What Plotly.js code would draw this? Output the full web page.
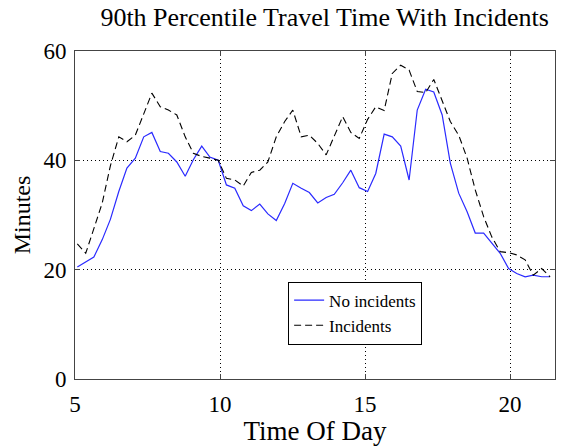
<!DOCTYPE html>
<html>
<head>
<meta charset="utf-8">
<script src="https://cdn.plot.ly/plotly-3.0.1.min.js"></script>
<style>
  html, body { margin: 0; padding: 0; background: #fff; }
  #chart { width: 567px; height: 446px; }
  #chart .legendtext { font-family: "Liberation Serif", "Times New Roman", serif !important; }
</style>
</head>
<body>
<div id="chart"></div>
<script>
// Time of day (hours)
var timeOfDay = [5.08, 5.37, 5.65, 5.94, 6.22, 6.51, 6.79, 7.08, 7.37, 7.65,
  7.94, 8.22, 8.51, 8.80, 9.08, 9.37, 9.65, 9.94, 10.22, 10.51,
  10.80, 11.08, 11.37, 11.65, 11.94, 12.23, 12.51, 12.80, 13.08, 13.37,
  13.66, 13.94, 14.23, 14.51, 14.80, 15.09, 15.37, 15.66, 15.94, 16.23,
  16.52, 16.80, 17.09, 17.37, 17.66, 17.94, 18.23, 18.52, 18.80, 19.09,
  19.37, 19.66, 19.95, 20.23, 20.52, 20.80, 21.09, 21.38];

// 90th percentile travel time (minutes), no incidents
var noIncidents = [20.5, 21.5, 22.3, 25.5, 29.2, 34.3, 38.6, 40.4, 44.3, 45.1,
  41.6, 41.3, 39.7, 37.1, 40.1, 42.6, 40.6, 40.0, 35.5, 34.9,
  31.7, 30.8, 32.0, 30.2, 29.0, 32.1, 35.8, 34.9, 34.1, 32.2,
  33.2, 33.8, 35.9, 38.2, 35.0, 34.3, 37.6, 44.8, 44.3, 42.6,
  36.4, 49.2, 53.0, 52.5, 48.3, 39.5, 34.0, 30.6, 26.7, 26.7,
  24.8, 23.0, 20.2, 19.3, 18.7, 19.0, 18.7, 18.7];

// 90th percentile travel time (minutes), with incidents
var incidents = [24.7, 23.0, 27.5, 32.2, 39.0, 44.3, 43.4, 44.6, 48.5, 52.3,
  49.8, 49.2, 48.3, 44.3, 41.3, 40.7, 40.4, 40.0, 36.7, 36.4,
  35.3, 37.8, 38.2, 39.7, 44.3, 47.1, 49.2, 44.3, 44.6, 43.1,
  41.0, 44.3, 48.0, 45.1, 44.0, 47.5, 49.8, 49.1, 55.9, 57.4,
  56.5, 52.6, 52.4, 54.8, 50.7, 47.1, 44.6, 40.4, 34.6, 29.7,
  26.0, 23.3, 23.1, 22.7, 21.8, 19.0, 20.2, 18.7];

var seriesNames = ['No incidents', 'Incidents'];
var xTicks = [5, 10, 15, 20];
var yTicks = [0, 20, 40, 60];
var titleText = '90th Percentile Travel Time With Incidents';
var xTitle = 'Time Of Day';
var yTitle = 'Minutes';

var serif = 'Liberation Serif, Times New Roman, Times, serif';
var axisGray = '#444444';

var traces = [
  {
    x: timeOfDay, y: noIncidents, name: seriesNames[0],
    type: 'scatter', mode: 'lines',
    line: { color: '#2a2aff', width: 1.2 }
  },
  {
    x: timeOfDay, y: incidents, name: seriesNames[1],
    type: 'scatter', mode: 'lines',
    line: { color: '#000000', width: 1.1, dash: '7px,4px' }
  }
];

var axisCommon = {
  showline: true, linecolor: axisGray, linewidth: 1, mirror: 'ticks',
  ticks: 'inside', ticklen: 5, tickwidth: 1, tickcolor: axisGray,
  showgrid: true, gridcolor: '#000000', gridwidth: 1, griddash: '1px,3px',
  zeroline: false, tickmode: 'array',
  tickfont: { family: serif, size: 23, color: '#000' }
};

var layout = {
  width: 567, height: 446,
  paper_bgcolor: '#ffffff', plot_bgcolor: '#ffffff',
  margin: { l: 75, r: 12, t: 51, b: 67, pad: 0 },
  font: { family: serif, color: '#000' },
  title: {
    text: titleText,
    font: { family: serif, size: 26, color: '#000' },
    x: 0.52, xref: 'paper', xanchor: 'center',
    y: 0.962, yref: 'container', yanchor: 'middle'
  },
  xaxis: Object.assign({}, axisCommon, {
    range: [5, 21.55], tickvals: xTicks, ticklabelstandoff: 4,
    title: { text: xTitle, font: { family: serif, size: 27, color: '#000' }, standoff: 2 }
  }),
  yaxis: Object.assign({}, axisCommon, {
    range: [0, 60], tickvals: yTicks, ticklabelstandoff: 3,
    title: { text: yTitle, font: { family: serif, size: 24, color: '#000' }, standoff: 6 }
  }),
  showlegend: true,
  legend: {
    x: 0.444, y: 0.297, xanchor: 'left', yanchor: 'top',
    bgcolor: '#ffffff', bordercolor: '#000000', borderwidth: 1,
    font: { family: serif, size: 17, color: '#000000' },
    itemwidth: 30, tracegroupgap: 0
  }
};

Plotly.newPlot('chart', traces, layout, { displayModeBar: false, staticPlot: true });
</script>
</body>
</html>
